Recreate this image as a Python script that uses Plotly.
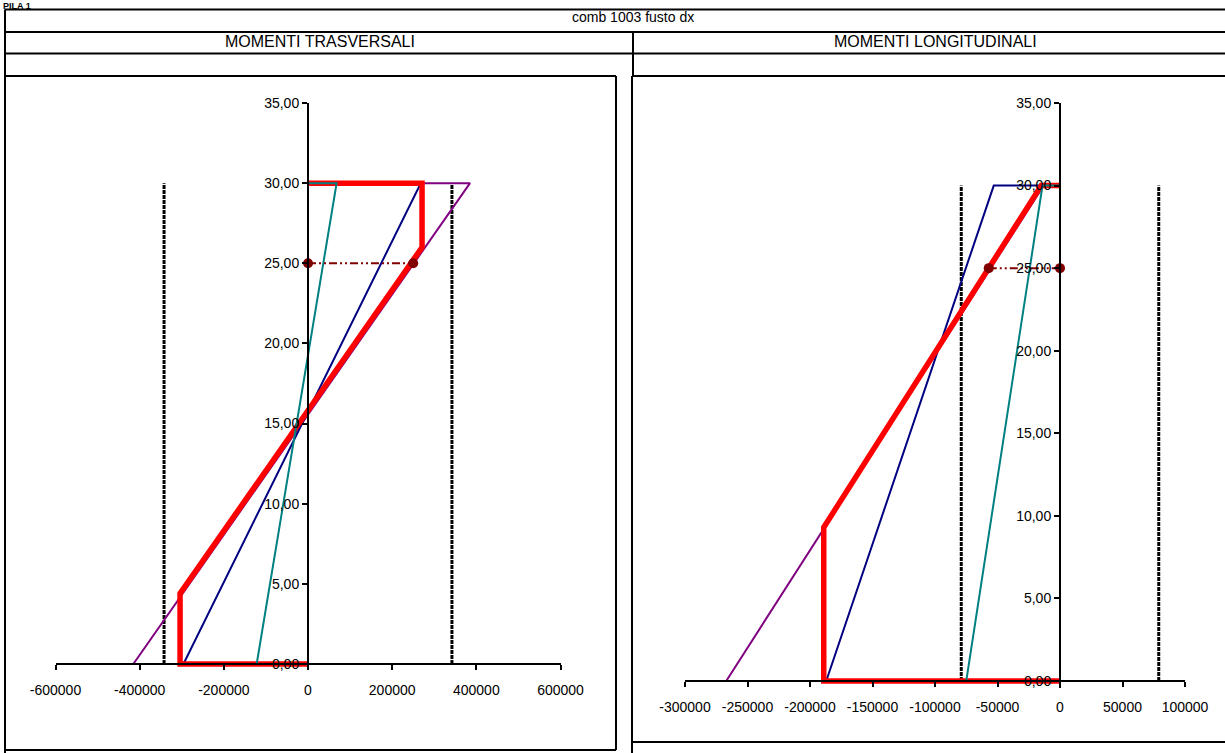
import plotly.graph_objects as go

W, H = 1225, 753

# ---- data: moment diagrams along the pier shaft (height 0..30 m) ----
# transverse moments
tr_purple = [-415000, 385000]     # value at base, value at top
tr_navy = [-296000, 268000]
tr_teal = [-122000, 68000]
tr_env_x = [0, -304000, -304000, 271000, 271000, 0]
tr_env_y = [0, 0, 4.4, 26.0, 30, 30]
tr_sec_x = [0, 250000]
tr_sec_y = [25, 25]
tr_limit = [-342000, 342000]

# longitudinal moments
lo_purple = [-267000, -13000]
lo_navy = [-187000, -53000]
lo_teal = [-75000, -14000]
lo_env_x = [0, -189000, -189000, -15000, 0]
lo_env_y = [0, 0, 9.3, 30, 30]
lo_sec_x = [-57000, 0]
lo_sec_y = [25, 25]
lo_limit = [-79000, 79000]

h_base, h_top = 0, 30

tr_ticks = [-600000, -400000, -200000, 0, 200000, 400000, 600000]
tr_tick_text = ["-600000", "-400000", "-200000", "0", "200000", "400000", "600000"]
lo_ticks = [-300000, -250000, -200000, -150000, -100000, -50000, 0, 50000, 100000]
lo_tick_text = ["-300000", "-250000", "-200000", "-150000", "-100000", "-50000", "0", "50000", "100000"]
y_ticks = [0, 5, 10, 15, 20, 25, 30, 35]

PURPLE, NAVY, TEAL, RED, DRED = "#800080", "#000080", "#008080", "#FF0000", "#800000"
FONT = "Liberation Sans, Arial, sans-serif"


def px(x):
    return x / W


def py(y):
    return 1 - y / H


fig = go.Figure()


def diagram(vals, color, width, xa, ya):
    # closed diagram: axis -> base value -> top value -> axis
    fig.add_trace(go.Scatter(
        x=[0, vals[0], vals[1], 0], y=[h_base, h_base, h_top, h_top],
        mode="lines", line=dict(color=color, width=width),
        xaxis=xa, yaxis=ya, showlegend=False, hoverinfo="skip"))


def panel(purple, navy, teal, env_x, env_y, sec_x, sec_y, limits, xa, ya):
    for v in limits:
        fig.add_trace(go.Scatter(
            x=[v, v], y=[h_base, h_top], mode="lines",
            line=dict(color="black", width=3, dash="4px,1px"),
            xaxis=xa, yaxis=ya, showlegend=False, hoverinfo="skip"))
    diagram(purple, PURPLE, 2, xa, ya)
    diagram(navy, NAVY, 2, xa, ya)
    fig.add_trace(go.Scatter(
        x=env_x, y=env_y, mode="lines", line=dict(color=RED, width=5.5),
        xaxis=xa, yaxis=ya, showlegend=False, hoverinfo="skip"))
    diagram(teal, TEAL, 2, xa, ya)
    fig.add_trace(go.Scatter(
        x=sec_x, y=sec_y, mode="lines+markers",
        line=dict(color=DRED, width=2, dash="8px,3px,2px,3px,2px,3px"),
        marker=dict(color=DRED, size=10),
        xaxis=xa, yaxis=ya, showlegend=False, hoverinfo="skip"))


panel(tr_purple, tr_navy, tr_teal, tr_env_x, tr_env_y, tr_sec_x, tr_sec_y, tr_limit, "x", "y")
panel(lo_purple, lo_navy, lo_teal, lo_env_x, lo_env_y, lo_sec_x, lo_sec_y, lo_limit, "x2", "y2")

# plot-area geometry in pixels: (x_left, x_right, y_top, y_zero)
Y_RANGE = [-0.4, 35]
geo = {
    "1": dict(xr=[-600000, 600000], xpx=(55.5, 560.5), ytop=103, yzero=664,
              ticks=tr_ticks, text=tr_tick_text),
    "2": dict(xr=[-300000, 100000], xpx=(685, 1185), ytop=103, yzero=681,
              ticks=lo_ticks, text=lo_tick_text),
}

axis_common = dict(showgrid=False, zeroline=False, showline=True, linecolor="black",
                   linewidth=2, ticks="outside", ticklen=5, tickwidth=2, tickcolor="black",
                   tickfont=dict(family=FONT, size=14, color="black"), fixedrange=True,
                   automargin=False)

for k, g in geo.items():
    unit = (g["yzero"] - g["ytop"]) / Y_RANGE[1]
    ybot = g["yzero"] - Y_RANGE[0] * unit
    xd = [px(g["xpx"][0]), px(g["xpx"][1])]
    yd = [py(ybot), py(g["ytop"])]
    x0_frac = (0 - g["xr"][0]) / (g["xr"][1] - g["xr"][0])
    y0_frac = (0 - Y_RANGE[0]) / (Y_RANGE[1] - Y_RANGE[0])
    xname = "xaxis" if k == "1" else "xaxis2"
    yname = "yaxis" if k == "1" else "yaxis2"
    fig.update_layout(**{
        xname: dict(axis_common, domain=xd, range=g["xr"], anchor="free",
                    position=yd[0] + y0_frac * (yd[1] - yd[0]),
                    tickvals=g["ticks"], ticktext=g["text"], ticklabelstandoff=8),
        yname: dict(axis_common, domain=yd, range=Y_RANGE, anchor="free",
                    position=xd[0] + x0_frac * (xd[1] - xd[0]),
                    tickvals=y_ticks, tickformat=".2f"),
    })


# worksheet grid around the two charts
def hline(x0, x1, y):
    fig.add_shape(type="line", xref="paper", yref="paper", x0=px(x0), x1=px(x1),
                  y0=py(y), y1=py(y), line=dict(color="black", width=2))


def vline(x, y0, y1):
    fig.add_shape(type="line", xref="paper", yref="paper", x0=px(x), x1=px(x),
                  y0=py(y0), y1=py(y1), line=dict(color="black", width=2))


hline(5, 1226, 9.5)
hline(5, 1226, 32)
hline(5, 1226, 53.5)
vline(5, 9.5, 753)
vline(633, 32, 76)
# chart frames
hline(5, 616, 76)
hline(5, 616, 750)
vline(616, 76, 750)
hline(632, 1226, 76)
hline(632, 1226, 742)
vline(632, 76, 753)


def label(text, x, y, size=14, bold=False, xanchor="center", yanchor="middle"):
    fig.add_annotation(text=f"<b>{text}</b>" if bold else text, xref="paper", yref="paper",
                       x=px(x), y=py(y), xanchor=xanchor, yanchor=yanchor, showarrow=False,
                       borderpad=0, font=dict(family=FONT, size=size, color="black"))


label("PILA 1", 2, 0, size=9, bold=True, xanchor="left", yanchor="top")
label("comb 1003 fusto dx", 633, 17, size=14)
label("MOMENTI TRASVERSALI", 320, 42, size=16)
label("MOMENTI LONGITUDINALI", 935, 42, size=16)

fig.update_layout(width=W, height=H,
                  margin=dict(l=0, r=0, t=0, b=0, pad=0, autoexpand=False),
                  paper_bgcolor="white", plot_bgcolor="rgba(0,0,0,0)",
                  separators=",.", showlegend=False)

fig.write_html("out.html")
